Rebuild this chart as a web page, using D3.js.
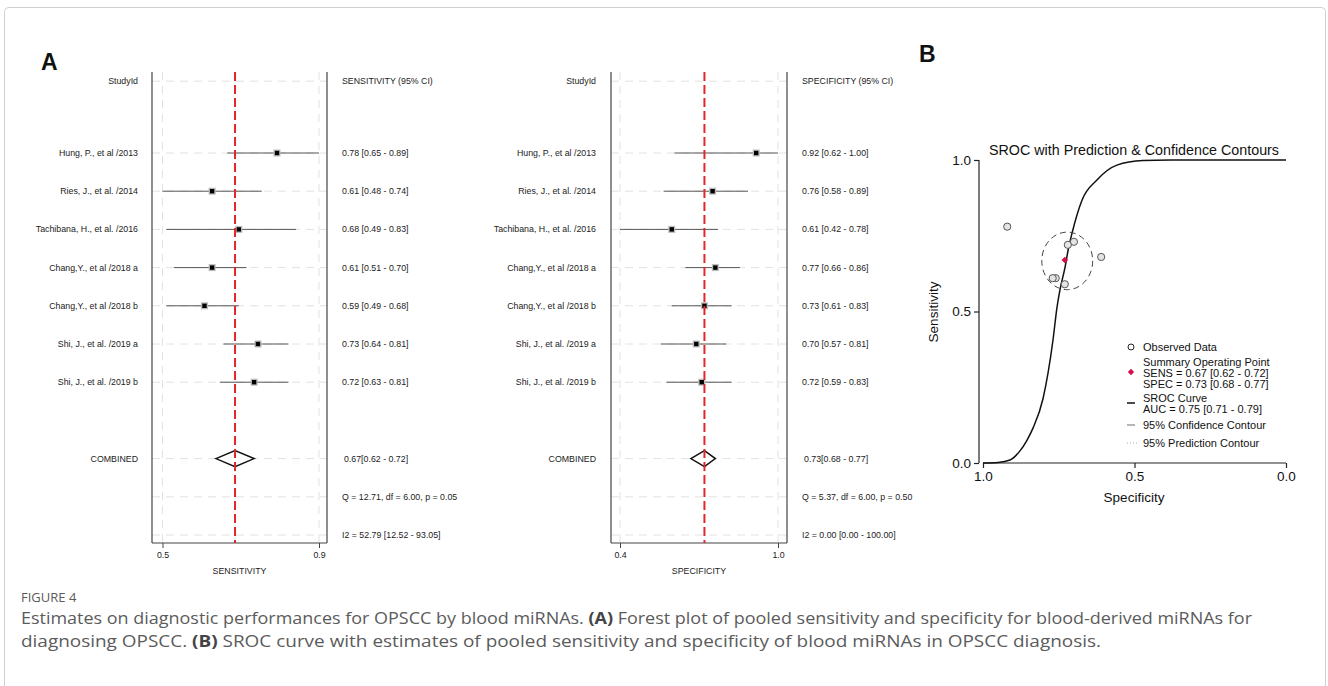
<!DOCTYPE html>
<html>
<head>
<meta charset="utf-8">
<script src="https://cdn.jsdelivr.net/npm/d3@7"></script>
<style>
  body { margin: 0; background: #fff; }
  svg text { font-family: "Liberation Sans", Arial, Helvetica, sans-serif; }
  svg text.cap { font-family: "Open Sans", "Noto Sans", sans-serif; }
</style>
</head>
<body>
<div id="screen"></div>
<script>
// study names, same order in both forest plots
var studies = ["Hung, P., et al /2013", "Ries, J., et al. /2014", "Tachibana, H., et al. /2016",
               "Chang,Y., et al /2018 a", "Chang,Y., et al /2018 b", "Shi, J., et al. /2019 a", "Shi, J., et al. /2019 b"];

// sensitivity and its 95% CI
var sens   = [0.78, 0.61, 0.68, 0.61, 0.59, 0.73, 0.72];
var sensLo = [0.65, 0.48, 0.49, 0.51, 0.49, 0.64, 0.63];
var sensHi = [0.89, 0.74, 0.83, 0.70, 0.68, 0.81, 0.81];

// specificity and its 95% CI
var spec   = [0.92, 0.76, 0.61, 0.77, 0.73, 0.70, 0.72];
var specLo = [0.62, 0.58, 0.42, 0.66, 0.61, 0.57, 0.59];
var specHi = [1.00, 0.89, 0.78, 0.86, 0.83, 0.81, 0.83];

// pooled estimate [point, low, high]
var sensPooled = [0.67, 0.62, 0.72];
var specPooled = [0.73, 0.68, 0.77];

// heterogeneity texts
var sensStats = ["Q = 12.71, df = 6.00, p =  0.05", "I2 = 52.79 [12.52 - 93.05]"];
var specStats = ["Q =  5.37, df = 6.00, p =  0.50", "I2 = 0.00 [0.00 - 100.00]"];

// axis ticks of forest plots (at min / max CI, labelled with one decimal)
var sensTicks = [0.48, 0.89];
var specTicks = [0.42, 1.00];

// SROC curve: [specificity, sensitivity]
var srocCurve = [[1.00, 0.000], [0.95, 0.002], [0.911, 0.010], [0.878, 0.040], [0.855, 0.075],
                 [0.835, 0.115], [0.802, 0.212], [0.769, 0.406], [0.756, 0.512], [0.746, 0.571],
                 [0.729, 0.647], [0.719, 0.703], [0.706, 0.759], [0.673, 0.868], [0.624, 0.934],
                 [0.558, 0.983], [0.472, 0.998], [0.38, 1.0], [0.0, 1.0]];

// 95% confidence contour: centre spec, centre sens, half width, half height
var confContour = [0.722, 0.667, 0.084, 0.095];

var srocTicks = [0.0, 0.5, 1.0];

var legendLines = [["Observed Data"], ["Summary Operating Point", "SENS = 0.67 [0.62 - 0.72]", "SPEC = 0.73 [0.68 - 0.77]"],
                   ["SROC Curve", "AUC = 0.75 [0.71 - 0.79]"], ["95% Confidence Contour"], ["95% Prediction Contour"]];

var W = 1328, H = 686;

var svg = d3.select("#screen").append("svg")
    .attr("width", W).attr("height", H);

svg.append("rect").attr("x", 4.5).attr("y", 7.5).attr("width", 1321).attr("height", 720)
    .attr("rx", 4).attr("fill", "#fff").attr("stroke", "#d0d0d0");

svg.append("text").attr("x", 41).attr("y", 70).text("A")
    .attr("font-size", 23).attr("font-weight", "bold").attr("fill", "#111");
svg.append("text").attr("x", 919).attr("y", 62).text("B")
    .attr("font-size", 23).attr("font-weight", "bold").attr("fill", "#111");

// row positions: header, 7 studies, combined, Q, I2
var row = d3.scaleLinear().domain([0, 10]).range([153, 535]);
var HEADER = -1.88, COMB = 8;
var FS = 8.8;

function forest(opt){
    var g = svg.append("g");
    var x = d3.scaleLinear().domain(opt.ticks).range(opt.tickPx);
    var top = 72, bottom = 543;

    // grid
    var rows = d3.range(7).concat([HEADER, COMB, 9, 10]);
    g.selectAll(".hg").data(rows).enter().append("line")
        .attr("x1", opt.frame[0]).attr("x2", opt.frame[1])
        .attr("y1", d => row(d)).attr("y2", d => row(d))
        .attr("stroke", "#e2e2e2").attr("stroke-dasharray", "8,6");
    g.selectAll(".vg").data(opt.ticks).enter().append("line")
        .attr("x1", d => x(d)).attr("x2", d => x(d))
        .attr("y1", top).attr("y2", bottom)
        .attr("stroke", "#e2e2e2").attr("stroke-dasharray", "8,6");

    // frame
    [opt.frame[0], opt.frame[1]].forEach(function(fx){
        g.append("line").attr("x1", fx).attr("x2", fx).attr("y1", top).attr("y2", bottom)
            .attr("stroke", "#444").attr("stroke-width", 1.2);
    });

    // bottom axis
    var axis = g.append("g").attr("transform", "translate(0," + bottom + ")")
        .call(d3.axisBottom(x).tickValues(opt.ticks).tickFormat(d3.format(".1f")).tickSize(5).tickPadding(4));
    axis.select(".domain").attr("d", "M" + opt.frame[0] + ",0H" + opt.frame[1]).attr("stroke", "#444").attr("stroke-width", 1.2);
    axis.selectAll(".tick line").attr("stroke", "#444");
    axis.selectAll(".tick text").attr("font-size", FS).attr("fill", "#222");
    g.append("text").attr("x", (opt.frame[0] + opt.frame[1]) / 2).attr("y", 574)
        .attr("text-anchor", "middle").attr("font-size", FS).attr("fill", "#222").text(opt.title);

    // CI lines
    g.selectAll(".ci").data(d3.range(7)).enter().append("line")
        .attr("x1", i => x(opt.lo[i])).attr("x2", i => x(opt.hi[i]))
        .attr("y1", i => row(i)).attr("y2", i => row(i))
        .attr("stroke", "#555").attr("stroke-width", 1);
    g.selectAll(".box").data(d3.range(7)).enter().append("rect")
        .attr("x", i => x(opt.est[i]) - 3.5).attr("y", i => row(i) - 3.5)
        .attr("width", 7).attr("height", 7).attr("fill", "#bbb");
    g.selectAll(".pt").data(d3.range(7)).enter().append("rect")
        .attr("x", i => x(opt.est[i]) - 2.2).attr("y", i => row(i) - 2.2)
        .attr("width", 4.4).attr("height", 4.4).attr("fill", "#000");

    // pooled diamond
    var p = opt.pooled, cy = row(COMB);
    g.append("polygon")
        .attr("points", [[x(p[1]), cy], [x(p[0]), cy - 8], [x(p[2]), cy], [x(p[0]), cy + 8]].join(" "))
        .attr("fill", "#fff").attr("stroke", "#111").attr("stroke-width", 1.5);

    // pooled reference line
    g.append("line").attr("x1", x(p[0])).attr("x2", x(p[0])).attr("y1", top).attr("y2", bottom)
        .attr("stroke", "#e3262b").attr("stroke-width", 2).attr("stroke-dasharray", "9,4");

    // labels left
    var labs = [["StudyId", HEADER]].concat(studies.map((s, i) => [s, i])).concat([["COMBINED", COMB]]);
    g.selectAll(".lab").data(labs).enter().append("text")
        .attr("x", opt.labelX).attr("y", d => row(d[1]) + 3)
        .attr("text-anchor", "end").attr("font-size", FS).attr("fill", "#222")
        .text(d => d[0]);

    // values right
    var f = d3.format(".2f");
    var vals = [[opt.header, HEADER, 0]].concat(d3.range(7).map(i => [f(opt.est[i]) + " [" + f(opt.lo[i]) + " - " + f(opt.hi[i]) + "]", i, 0]))
        .concat([[f(p[0]) + "[" + f(p[1]) + " - " + f(p[2]) + "]", COMB, 2], [opt.stats[0], 9, 0], [opt.stats[1], 10, 0]]);
    g.selectAll(".val").data(vals).enter().append("text")
        .attr("x", d => opt.valueX + d[2]).attr("y", d => row(d[1]) + 3)
        .attr("font-size", FS).attr("fill", "#222")
        .text(d => d[0]);
}

forest({ ticks: sensTicks, tickPx: [162.5, 319], frame: [152, 327], est: sens, lo: sensLo, hi: sensHi,
         pooled: sensPooled, stats: sensStats, labelX: 138, valueX: 342,
         header: "SENSITIVITY (95% CI)", title: "SENSITIVITY" });
forest({ ticks: specTicks, tickPx: [620, 778], frame: [611, 787], est: spec, lo: specLo, hi: specHi,
         pooled: specPooled, stats: specStats, labelX: 596, valueX: 802,
         header: "SPECIFICITY (95% CI)", title: "SPECIFICITY" });

// ---------- SROC ----------
var sx = d3.scaleLinear().domain([1, 0]).range([983, 1286]);
var sy = d3.scaleLinear().domain([0, 1]).range([463, 160]);
var sg = svg.append("g");

var yAx = sg.append("g").attr("transform", "translate(979,0)")
    .call(d3.axisLeft(sy).tickValues(srocTicks).tickFormat(d3.format(".1f")).tickSize(5).tickPadding(3));
var xAx = sg.append("g").attr("transform", "translate(0,463)")
    .call(d3.axisBottom(sx).tickValues(srocTicks).tickFormat(d3.format(".1f")).tickSize(5).tickPadding(3));
[yAx, xAx].forEach(function(a){
    a.select(".domain").attr("stroke", "#222").attr("stroke-width", 1.2)
        .attr("d", a === yAx ? "M0,160V463" : "M983,0H1286");
    a.selectAll(".tick line").attr("stroke", "#222").attr("stroke-width", 1.2);
    a.selectAll(".tick text").attr("font-size", 13.5).attr("fill", "#111");
});

sg.append("text").attr("x", 1134).attr("y", 155).attr("text-anchor", "middle")
    .attr("font-size", 14.3).attr("fill", "#111").text("SROC with Prediction & Confidence Contours");
sg.append("text").attr("x", 1134).attr("y", 502).attr("text-anchor", "middle")
    .attr("font-size", 13.5).attr("fill", "#111").text("Specificity");
sg.append("text").attr("transform", "translate(938,312) rotate(-90)").attr("text-anchor", "middle")
    .attr("font-size", 13.5).attr("fill", "#111").text("Sensitivity");

// curve
sg.append("path").datum(srocCurve)
    .attr("d", d3.line().x(d => sx(d[0])).y(d => sy(d[1])).curve(d3.curveMonotoneX))
    .attr("fill", "none").attr("stroke", "#111").attr("stroke-width", 1.5);

// confidence contour
sg.append("ellipse")
    .attr("cx", sx(confContour[0])).attr("cy", sy(confContour[1]))
    .attr("rx", sx(1 - confContour[2]) - sx(1)).attr("ry", sy(0) - sy(confContour[3]))
    .attr("fill", "none").attr("stroke", "#444").attr("stroke-width", 1).attr("stroke-dasharray", "6,4");

// observed data
sg.selectAll(".obs").data(d3.range(7)).enter().append("circle")
    .attr("cx", i => sx(spec[i])).attr("cy", i => sy(sens[i])).attr("r", 3.6)
    .attr("fill", "#e4e4e4").attr("stroke", "#555").attr("stroke-width", 1);

// summary point
sg.append("path").attr("d", d3.symbol(d3.symbolSquare, 22)())
    .attr("transform", "translate(" + sx(specPooled[0]) + "," + sy(sensPooled[0]) + ") rotate(45)")
    .attr("fill", "#d4104a");

// legend
var lg = sg.append("g").attr("font-size", 11).attr("fill", "#111");
var ly = [347, 362, 398, 425, 443];
legendLines.forEach(function(lines, k){
    lines.forEach(function(t, j){
        lg.append("text").attr("x", 1143).attr("y", ly[k] + j * 11 + 4).text(t);
    });
});
lg.append("circle").attr("cx", 1131).attr("cy", 347).attr("r", 3).attr("fill", "none").attr("stroke", "#222");
lg.append("path").attr("d", d3.symbol(d3.symbolSquare, 20)()).attr("transform", "translate(1131,372) rotate(45)").attr("fill", "#d4104a");
lg.append("line").attr("x1", 1127).attr("x2", 1135).attr("y1", 403).attr("y2", 403).attr("stroke", "#111").attr("stroke-width", 1.5);
lg.append("line").attr("x1", 1127).attr("x2", 1135).attr("y1", 425).attr("y2", 425).attr("stroke", "#888").attr("stroke-width", 1.2);
lg.append("line").attr("x1", 1127).attr("x2", 1137).attr("y1", 443).attr("y2", 443).attr("stroke", "#aaa").attr("stroke-dasharray", "1,2");

// caption
var cap = svg.append("g").attr("fill", "#5b5b5b");
cap.append("text").attr("class", "cap").attr("x", 21).attr("y", 602).attr("font-size", 13)
    .text("FIGURE 4");
var c1 = cap.append("text").attr("class", "cap").attr("x", 21).attr("y", 624).attr("font-size", 16)
    .attr("textLength", 1231).attr("lengthAdjust", "spacingAndGlyphs");
c1.append("tspan").text("Estimates on diagnostic performances for OPSCC by blood miRNAs. ");
c1.append("tspan").attr("font-weight", 700).attr("fill", "#444").text("(A)");
c1.append("tspan").text(" Forest plot of pooled sensitivity and specificity for blood-derived miRNAs for");
var c2 = cap.append("text").attr("class", "cap").attr("x", 21).attr("y", 647).attr("font-size", 16)
    .attr("textLength", 1080).attr("lengthAdjust", "spacingAndGlyphs");
c2.append("tspan").text("diagnosing OPSCC. ");
c2.append("tspan").attr("font-weight", 700).attr("fill", "#444").text("(B)");
c2.append("tspan").text(" SROC curve with estimates of pooled sensitivity and specificity of blood miRNAs in OPSCC diagnosis.");
</script>
</body>
</html>
